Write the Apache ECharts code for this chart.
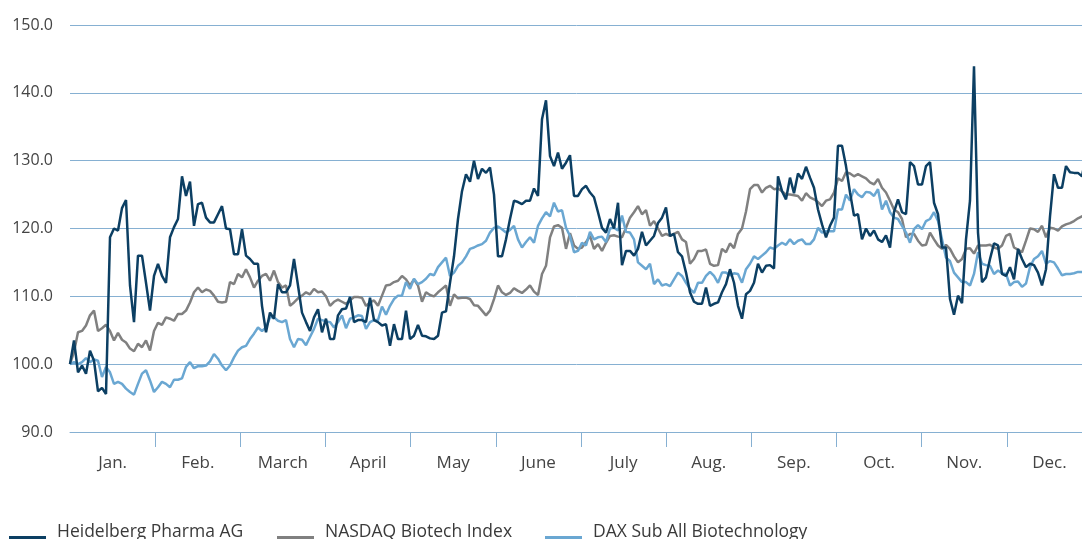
<!DOCTYPE html>
<html><head><meta charset="utf-8">
<script src="https://cdn.jsdelivr.net/npm/echarts@6/dist/echarts.min.js"></script>
<style>html,body{margin:0;padding:0;background:#fff;overflow:hidden}#c{width:1082px;height:539px}</style>
</head><body><div id="c"></div>
<script>
const months = ['Jan.','Feb.','March','April','May','June','July','Aug.','Sep.','Oct.','Nov.','Dec.'];
const yMin = 90, yMax = 150, yStep = 10;
const seriesNames = ['Heidelberg Pharma AG','NASDAQ Biotech Index','DAX Sub All Biotechnology'];

const heidelberg = [
100,103.5,98.8,99.8,98.6,102,100.5,96,96.5,95.6,118.7,120,119.7,123,124.2,111.6,106.2,116,116,112,107.9,113,114.8,113,112,118.7,120.2,121.4,127.7,124.8,126.9,120.4,123.6,123.8,121.6,120.9,120.9,122.1,123.3,120,119.9,
116.2,116.2,119.9,116,115.5,114.8,114.8,108.6,104.7,107.6,106.7,111.8,110.6,110.6,111.6,115.5,111.6,107.6,106.2,104.9,106.9,108.1,104.7,106.7,103.7,103.7,107.2,108.1,108.2,109.9,106.2,106.5,106.5,106.2,109.8,106.5,106.2,105.7,105.9,102.7,105.9,103.7,103.7,107.9,
103.7,104.2,105.8,104.2,104.1,103.8,103.7,104.2,107.6,107.8,112,115.9,121.4,125.5,128,126.9,130,127.3,128.8,128.2,129,125,115.9,115.9,118.4,121.4,124.1,123.9,123.6,124.1,124.1,125.9,124.8,136.1,138.9,130.7,129.2,131.2,128.8,129.7,130.8,124.8,124.8,
125.8,126.3,125.3,124.6,122.4,120.1,119.4,121.4,120,123.8,114.6,116.7,116.7,116,117,119.5,117.5,118.2,118.9,120.8,121.6,123.1,118.9,119.2,116.5,115.9,113.5,110.6,109.2,108.9,108.9,111.3,108.6,108.9,109.1,110.6,111.8,114,112,108.6,106.7,110.3,
110.8,112,114.8,113.5,114.5,114.6,114.1,127.7,125.5,124.3,127.5,125.2,128.1,127.3,129.1,127.5,126,122.8,120.6,118.7,120.4,121.6,132.2,132.2,129.2,125.3,121.9,122.1,118.4,120,118.9,119.7,118.4,118,119,117.2,122.4,124.3,122.4,122.1,129.8,129.2,126.5,126.5,
129.2,129.8,123.8,122.1,117.2,117.2,109.6,107.3,110.1,109,118.4,124.1,143.9,119.4,112.1,112.8,115.5,117.8,117.5,113.3,113,114.3,112.5,117,115.5,114.3,114.8,114.6,113.5,111.6,114,121.8,128,126,126,129.2,128.3,128.2,128.2,127.7,130.7
];

const nasdaq = [
100,101.8,104.7,104.9,105.7,107.2,107.9,104.9,105.3,105.8,104.9,103.5,104.6,103.6,103.2,102.3,101.9,103,102.5,103.5,102,104.9,106.1,105.8,106.9,106.7,106.4,107.4,107.4,107.9,109.1,110.6,111.3,110.6,111,110.8,110.1,109.2,109.1,109.2,
112.1,111.8,113.3,112.8,114,112.8,111.3,112.3,113,113.3,112.3,113.8,112.1,111.3,111.6,108.6,109.1,109.7,110.1,110.6,110.3,111.1,110.6,110.7,110,108.6,109.2,109.5,109.2,108.9,109.4,109.9,109.9,109.8,108.6,109.1,109.4,108.6,110.1,111.6,111.7,112.1,112.3,113,112.5,
111.6,112.5,111.6,109.2,110.6,110.2,110,110.6,111.1,111.6,108.6,110.3,109.7,109.8,109.8,109.6,108.7,108.6,107.9,107.2,107.9,109.6,111.6,110.6,110.2,110.5,111.2,110.8,110.5,111,111.6,110.7,110.2,113.3,114.5,118.7,120.3,120.5,120.1,117,119.3,117.5,117,
117.2,118,118.9,117,117.7,116.7,117.9,118.9,119,118.8,118.7,120.1,121.6,122.4,123.3,122.1,122.7,120.4,121.1,120,118.9,119.2,118.9,119.2,119.5,118.4,118,114.8,115.5,116.7,116.7,116.9,114.8,114.5,114.6,117,116.5,117.8,117.1,119.2,
120,122.5,125.8,126.4,126.4,125.3,126,126.3,125.8,125.9,125.5,125,125,124.9,124.8,124.1,125.2,124.6,124.3,123.9,123.3,124.1,124.3,125.3,127.4,127,128.3,128.1,127.7,128,127.7,127.4,126.8,126.5,127.3,126,125.3,124.1,122.8,122.4,121.4,118.7,119.2,119.2,118.2,
117.5,117.6,119.4,118.4,117.5,117,117.6,117,115.9,115,115.5,117,117.1,116.3,117.5,117.5,117.5,117.6,117.2,117,117.5,118.9,119.2,117.2,116.9,116.5,118.2,120,119.9,119.5,120.4,118.7,120.1,120,119.7,120.3,120.6,120.8,121.1,121.5,121.8,121.9
];

const dax = [
100,100.3,100,100.3,100.9,100.3,100.7,100.5,98.1,99.6,98.8,97.1,97.4,97.1,96.4,95.9,95.5,97.1,98.6,99.1,97.6,95.9,96.6,97.4,97.1,96.6,97.7,97.7,97.9,99.6,100.3,99.4,99.7,99.7,99.8,100.4,101.5,100.8,99.8,99.1,99.8,101,102,
102.5,102.7,103.7,104.5,105.4,104.9,105.4,106.9,106.9,106.4,106.2,106.5,103.7,102.5,103.7,103.6,102.8,104,105.2,106.7,106.5,106.3,106.2,105.4,106.2,107.2,105.3,106.7,106.9,107.2,107.1,105.2,106.2,106.5,106.5,108.5,107.3,108.6,109.6,110.1,110.1,112.1,
111.1,112.6,111.8,112.1,112.6,113.3,113.1,114.3,115,115.7,113,113.5,114.5,115,115.9,117,117.2,117.5,117.7,118.2,119.4,120.1,120.3,119.9,119.4,119.8,120.4,118.4,117.2,118,118.7,117.9,120.4,121.5,122.4,121.8,123.8,122.5,122.7,120.1,118.9,
116.5,116.7,117.9,117.5,119.5,118.4,118.7,118.8,118,120,120.1,119.7,121.9,119.5,119.4,118.4,115,114.5,114,114.8,111.8,112.5,111.6,111.8,111.5,112.5,113.5,113,112,111.1,110.5,112,112,113,113.6,113,112,113.5,113.5,113.1,113.4,113.3,112,114,
114.8,115.9,115.5,116,116.5,117.2,117,117.5,117.9,117.6,118.4,117.7,118.2,118.4,117.7,117.7,118.4,120.1,119.4,119.6,119.6,119.6,122.8,122.8,125,124.1,125.8,125,124.6,125.4,125.3,124.8,125.8,122.8,124.1,122.4,121.6,121.4,120.4,119.4,117.9,119.9,120.5,
119.9,121.1,121.4,122.4,121.1,118.4,115.7,115.2,113.5,112.8,112.1,112.1,111.6,113.3,116.5,114.8,114.6,114.5,113.3,113.8,113.4,113.3,111.6,112.1,112.2,111.4,111.9,114.3,115.5,115.9,116.7,114.8,115.2,115,114.1,113.1,113.3,113.3,113.4,113.6,113.6,113.6
];

const tradingDaysInYear = 255.5;
const colors = { heidelberg: '#0c3f63', nasdaq: '#808080', dax: '#6aa7d2' };
const gridColor = '#86b0d2';
const font = 'Open Sans';
// legend icon: a 4px bar sitting at the bottom of the item box
const legendIcon = 'path://M0,0 L0,0 M0,12 L37,12 L37,16 L0,16 Z';

const toPts = arr => arr.map((v, i) => [i, v]);

const chart = echarts.init(document.getElementById('c'), null, { renderer: 'canvas' });

function legendItem(name, color, left) {
  return {
    data: [{ name: name, itemStyle: { color: color, borderWidth: 0 } }],
    left: left, top: 518, itemWidth: 37, itemHeight: 16, icon: legendIcon,
    selectedMode: false,
    textStyle: { fontFamily: font, fontSize: 17.5, color: '#3a3a3a', padding: [0, 0, 0, 6] }
  };
}

chart.setOption({
  animation: false,
  grid: { left: 70, top: 25, width: 1022, height: 407, containLabel: false, outerBoundsMode: 'none' },
  legend: [
    legendItem(seriesNames[0], colors.heidelberg, 4),
    legendItem(seriesNames[1], colors.nasdaq, 272),
    legendItem(seriesNames[2], colors.dax, 540)
  ],
  xAxis: [
    {
      type: 'category', data: months, boundaryGap: true, position: 'bottom',
      axisLine: { show: true, lineStyle: { color: gridColor, width: 1 } },
      axisTick: { show: true, length: 15, lineStyle: { color: gridColor }, interval: (i) => i !== 0 },
      axisLabel: { margin: 23, fontFamily: font, fontSize: 17, color: '#444' },
      splitLine: { show: false }
    },
    { type: 'value', min: 0, max: tradingDaysInYear, show: false }
  ],
  yAxis: {
    type: 'value', min: yMin, max: yMax, interval: yStep,
    axisLine: { show: false }, axisTick: { show: false },
    axisLabel: { margin: 17, fontFamily: font, fontSize: 16, color: '#444', formatter: v => v.toFixed(1) },
    splitLine: { show: true, lineStyle: { color: gridColor, width: 1 } }
  },
  series: [
    { name: seriesNames[1], type: 'line', xAxisIndex: 1, data: toPts(nasdaq), showSymbol: false, symbol: 'none',
      lineStyle: { color: colors.nasdaq, width: 2.5 }, itemStyle: { color: colors.nasdaq }, z: 2 },
    { name: seriesNames[2], type: 'line', xAxisIndex: 1, data: toPts(dax), showSymbol: false, symbol: 'none',
      lineStyle: { color: colors.dax, width: 2.5 }, itemStyle: { color: colors.dax }, z: 3 },
    { name: seriesNames[0], type: 'line', xAxisIndex: 1, data: toPts(heidelberg), showSymbol: false, symbol: 'none',
      lineStyle: { color: colors.heidelberg, width: 2.5 }, itemStyle: { color: colors.heidelberg }, z: 4 }
  ]
});
</script>
</body></html>
